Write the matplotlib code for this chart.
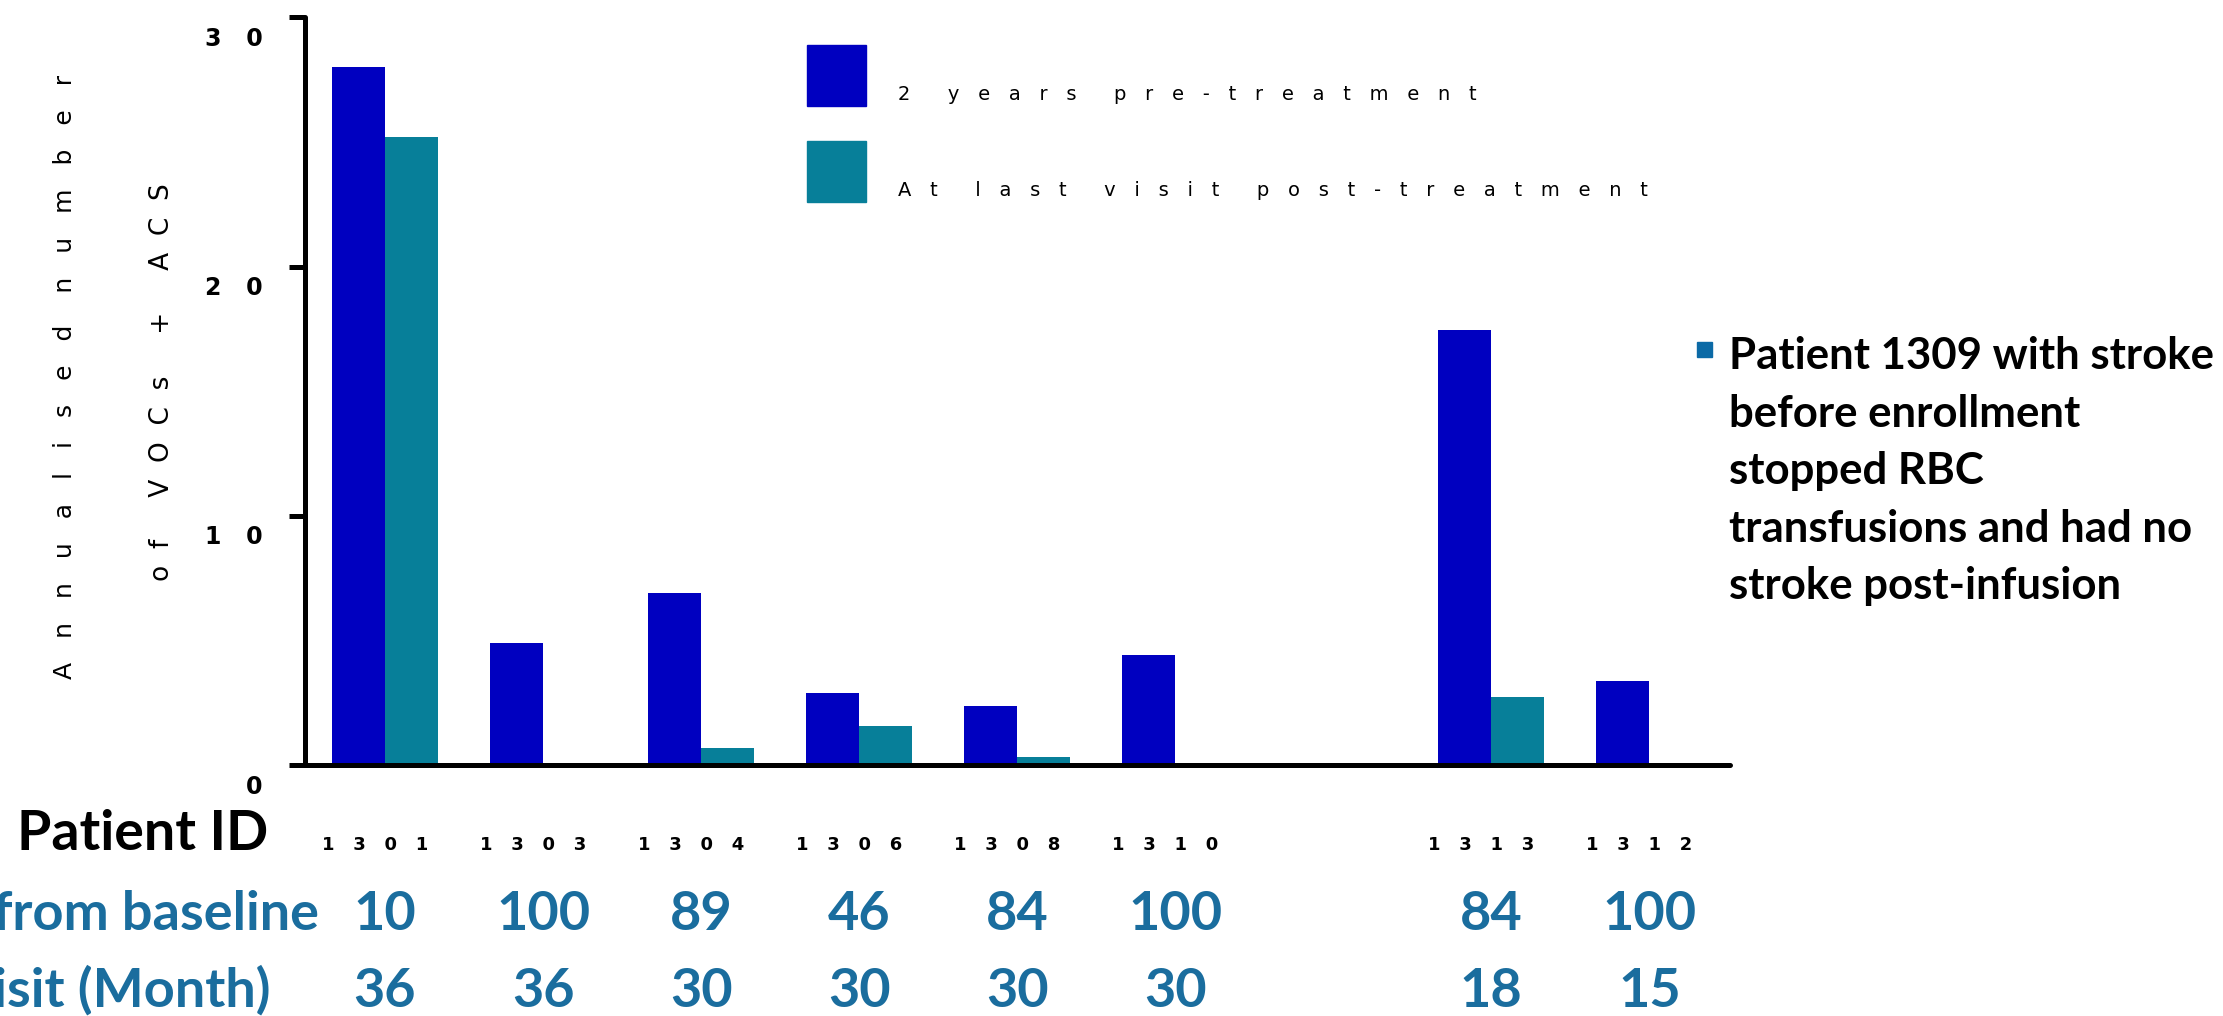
import matplotlib
matplotlib.use("Agg")
import matplotlib.pyplot as plt
import matplotlib.transforms as mtransforms
from matplotlib.patches import Rectangle
import numpy as np

# annualised VOCs + ACS per patient (slot 7 left empty)
patient_ids = ["1301", "1303", "1304", "1306", "1308", "1310", "", "1313", "1312"]
pre_treatment = [28.0, 4.9, 6.9, 2.9, 2.37, 4.4, 0.0, 17.45, 3.37]
post_treatment = [25.2, 0.0, 0.7, 1.55, 0.33, 0.0, 0.0, 2.75, 0.0]
reduction_pct = ["10", "100", "89", "46", "84", "100", "", "84", "100"]
last_visit_month = ["36", "36", "30", "30", "30", "30", "", "18", "15"]
y_ticks = [0, 10, 20, 30]

series_names = ["2 years pre-treatment", "At last visit post-treatment"]
note = ("Patient 1309 with stroke\nbefore enrollment\nstopped RBC\n"
        "transfusions and had no\nstroke post-infusion")

blue = "#0000c0"
teal = "#077f99"
txt_blue = "#1a6d9e"
bold_font = ["Lato", "DejaVu Sans"]


def spaced(s, n, wn=None):
    # wide letter spacing used on the axis texts
    if wn is None:
        wn = 2 * n + 1
    return (" " * wn).join((" " * n).join(word) for word in s.split(" "))


fig = plt.figure(figsize=(22.23, 10.16), dpi=100)
ax = fig.add_axes([0.1372, 0.247, 0.641, 0.736])

x = np.arange(len(patient_ids))
w = 0.335
ax.bar(x - w / 2, pre_treatment, w, color=blue, zorder=2)
ax.bar(x + w / 2, post_treatment, w, color=teal, zorder=2)

ax.set_xlim(-0.506, 8.51)
ax.set_ylim(0, 30)

for side in ["top", "right"]:
    ax.spines[side].set_visible(False)
for side in ["left", "bottom"]:
    ax.spines[side].set_linewidth(3.6)
    ax.spines[side].set_capstyle("round")
    ax.spines[side].set_zorder(3)

ax.set_xticks([])
ax.set_yticks(y_ticks)
ax.set_yticklabels([spaced(str(v), 3) for v in y_ticks], fontweight="bold")
ax.tick_params(axis="y", direction="out", length=11.5, width=3.6, pad=19,
               labelsize=17)
shift = mtransforms.ScaledTranslation(0, -0.19, fig.dpi_scale_trans)
for lbl in ax.get_yticklabels():
    lbl.set_transform(lbl.get_transform() + shift)

# y label in two spaced lines
fig.text(0.0292, 0.629, spaced("Annualised number", 3, 4), rotation=90,
         fontsize=18, ha="center", va="center")
fig.text(0.0729, 0.624, spaced("of VOCs + ACS", 2), rotation=90,
         fontsize=19, ha="center", va="center")

# legend boxes
for y0, yt, col, name in [(0.8957, 0.9016, blue, series_names[0]),
                          (0.8012, 0.807, teal, series_names[1])]:
    fig.add_artist(Rectangle((0.363, y0), 0.0265, 0.060,
                             transform=fig.transFigure, color=col))
    fig.text(0.404, yt, spaced(name, 3, 6), fontsize=14, va="baseline")

# table rows under the axis
row = mtransforms.blended_transform_factory(ax.transData, fig.transFigure)
id_shift = mtransforms.ScaledTranslation(-0.10, 0, fig.dpi_scale_trans)
for i in range(len(patient_ids)):
    fig.text(x[i], 0.1634, spaced(patient_ids[i], 3), transform=row + id_shift,
             fontsize=13, fontweight="bold", ha="center", va="baseline")
    fig.text(x[i], 0.0846, reduction_pct[i], transform=row, color=txt_blue,
             family=bold_font, fontsize=39, fontweight="bold",
             ha="center", va="baseline")
    fig.text(x[i], 0.0089, last_visit_month[i], transform=row, color=txt_blue,
             family=bold_font, fontsize=39, fontweight="bold",
             ha="center", va="baseline")

fig.text(0.0076, 0.1634, "Patient ID", family=bold_font, fontsize=40,
         fontweight="bold", ha="left", va="baseline")
fig.text(0.1435, 0.0846, "% reduction from baseline", family=bold_font,
         fontsize=39, fontweight="bold", color=txt_blue, ha="right",
         va="baseline")
fig.text(0.1215, 0.0089, "Last visit (Month)", family=bold_font,
         fontsize=39, fontweight="bold", color=txt_blue, ha="right",
         va="baseline")

# side note
fig.add_artist(Rectangle((0.7634, 0.6486), 0.00675, 0.01476,
                         transform=fig.transFigure, color="#0b6aa6"))
fig.text(0.778, 0.669, note, family=bold_font, fontsize=31.5,
         fontweight="bold", ha="left", va="top", linespacing=1.53)

fig.savefig("out.png", dpi=100)
